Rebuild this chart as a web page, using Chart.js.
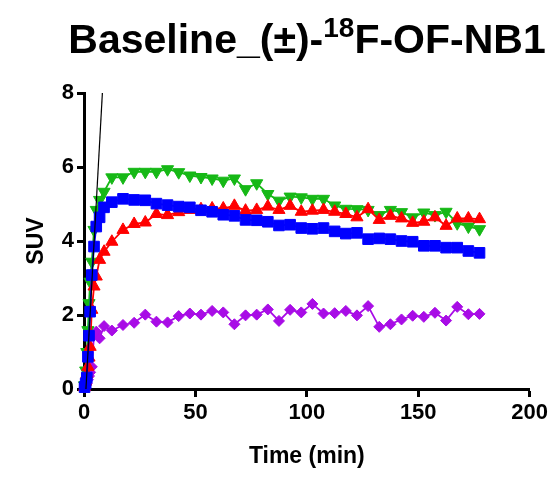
<!DOCTYPE html>
<html>
<head>
<meta charset="utf-8">
<script src="https://cdn.jsdelivr.net/npm/chart.js@4.4.1/dist/chart.umd.min.js"></script>
<style>
  html, body { margin: 0; padding: 0; background: #fff; }
  #wrap { position: relative; width: 551px; height: 477px; }
  #title {
    position: absolute; top: 16px; left: 307px; transform: translateX(-50%);
    white-space: nowrap; font: bold 41px Arial, "Liberation Sans", sans-serif; color: #000;
  }
  #title sup { font-size: 28px; vertical-align: 0; position: relative; top: -16px; }
</style>
</head>
<body>
<div id="wrap">
  <div id="title">Baseline_(±)-<sup>18</sup>F-OF-NB1</div>
  <canvas id="chart" width="551" height="477"></canvas>
</div>
<script>
// frame mid-times (min)
const times = [0.25, 0.75, 1.25, 1.75, 2.25, 2.75, 3.5, 4.5, 5.5, 7, 9, 12.5,
  17.5, 22.5, 27.5, 32.5, 37.5, 42.5, 47.5, 52.5, 57.5, 62.5, 67.5, 72.5, 77.5, 82.5,
  87.5, 92.5, 97.5, 102.5, 107.5, 112.5, 117.5, 122.5, 127.5, 132.5, 137.5, 142.5,
  147.5, 152.5, 157.5, 162.5, 167.5, 172.5, 177.5];

const blueSUV = [0.05, 0.15, 0.31, 0.87, 1.44, 2.09, 3.08, 3.85, 4.39, 4.64, 4.91, 5.05,
  5.14, 5.11, 5.10, 5.01, 4.97, 4.93, 4.91, 4.83, 4.79, 4.71, 4.68, 4.57, 4.56, 4.52,
  4.42, 4.44, 4.35, 4.33, 4.35, 4.26, 4.20, 4.22, 4.05, 4.07, 4.05, 4.00,
  3.98, 3.87, 3.87, 3.82, 3.82, 3.73, 3.68];

const redSUV = [0.05, 0.2, 0.4, 0.6, 0.85, 1.14, 2.14, 2.77, 3.04, 3.49, 3.71, 3.98,
  4.30, 4.46, 4.50, 4.73, 4.70, 4.78, 4.84, 4.86, 4.88, 4.88, 4.95, 4.82, 4.84, 4.93,
  4.84, 4.95, 4.79, 4.82, 4.84, 4.79, 4.73, 4.64, 4.86, 4.57, 4.68, 4.61,
  4.49, 4.52, 4.64, 4.41, 4.61, 4.61, 4.59];

const greenSUV = [0.1, 0.5, 1.0, 1.59, 2.32, 2.9, 3.44, 4.30, 4.84, 5.11, 5.33, 5.72,
  5.72, 5.87, 5.87, 5.87, 5.94, 5.86, 5.77, 5.73, 5.69, 5.63, 5.69, 5.40, 5.56, 5.27,
  5.09, 5.20, 5.18, 5.14, 5.14, 4.96, 4.87, 4.86, 4.84, 4.70, 4.84, 4.78,
  4.64, 4.77, 4.70, 4.79, 4.48, 4.39, 4.32];

const purpleSUV = [0.05, 0.1, 0.15, 0.25, 0.35, 0.45, 0.6, 1.46, 1.55, 1.37, 1.70, 1.58,
  1.73, 1.79, 2.01, 1.82, 1.80, 1.97, 2.04, 2.01, 2.11, 2.07, 1.75, 1.99, 2.01, 2.15,
  1.84, 2.14, 2.07, 2.30, 2.04, 2.05, 2.11, 1.99, 2.24, 1.68, 1.75, 1.88,
  1.98, 1.95, 2.06, 1.85, 2.22, 2.02, 2.03];

// thin black line rising off the top
const lineX = [0.87, 10];
const lineY = [0, 9.9];

const xTicks = [0, 50, 100, 150, 200];
const yTicks = [0, 2, 4, 6, 8];

const FONT = 'Arial, "Liberation Sans", sans-serif';

function pts(xs, ys) {
  return xs.map((x, i) => ({ x: x, y: ys[i] }));
}

function series(label, ys, color, style, radius, rotation) {
  return {
    label: label,
    data: pts(times, ys),
    borderColor: color,
    backgroundColor: color,
    borderWidth: 1.8,
    pointStyle: style,
    pointRadius: radius,
    pointRotation: rotation || 0,
    pointBorderWidth: 1,
    pointBorderColor: color,
    pointBackgroundColor: color,
    clip: false
  };
}

new Chart(document.getElementById('chart'), {
  type: 'line',
  data: {
    datasets: [
      {
        label: 'line',
        data: pts(lineX, lineY),
        borderColor: '#000',
        borderWidth: 1.2,
        pointRadius: 0
      },
      series('Blue', blueSUV, '#0000ff', 'rect', 7.5),
      series('Red', redSUV, '#ff0000', 'triangle', 7),
      series('Green', greenSUV, '#16b816', 'triangle', 7, 180),
      series('Purple', purpleSUV, '#a80ce6', 'rectRot', 5.5)
    ]
  },
  options: {
    responsive: false,
    animation: false,
    layout: { padding: { left: 0, right: 20, top: 93, bottom: 0 } },
    plugins: {
      legend: { display: false },
      tooltip: { enabled: false },
      title: { display: false }
    },
    scales: {
      x: {
        type: 'linear',
        min: 0,
        max: 200,
        afterBuildTicks: (scale) => { scale.ticks = xTicks.map(v => ({ value: v })); },
        afterFit: (scale) => { scale.height = 88; },
        border: { display: true, color: '#000', width: 3 },
        grid: { display: true, drawOnChartArea: false, drawTicks: true, tickLength: 8, tickWidth: 3, tickColor: '#000' },
        ticks: { color: '#000', padding: 3, maxRotation: 0, font: { family: FONT, size: 22, weight: 'bold' } },
        title: { display: true, text: 'Time (min)', color: '#000', padding: { top: 0, bottom: 7 }, font: { family: FONT, size: 23, weight: 'bold' } }
      },
      y: {
        type: 'linear',
        min: 0,
        max: 8,
        afterBuildTicks: (scale) => { scale.ticks = yTicks.map(v => ({ value: v })); },
        afterFit: (scale) => { scale.width = 84; },
        border: { display: true, color: '#000', width: 3 },
        grid: { display: true, drawOnChartArea: false, drawTicks: true, tickLength: 7, tickWidth: 3, tickColor: '#000' },
        ticks: { color: '#000', padding: 3, font: { family: FONT, size: 22, weight: 'bold' } },
        title: { display: true, text: 'SUV', color: '#000', padding: { top: 23, bottom: 0 }, font: { family: FONT, size: 23, weight: 'bold' } }
      }
    }
  }
});
</script>
</body>
</html>
